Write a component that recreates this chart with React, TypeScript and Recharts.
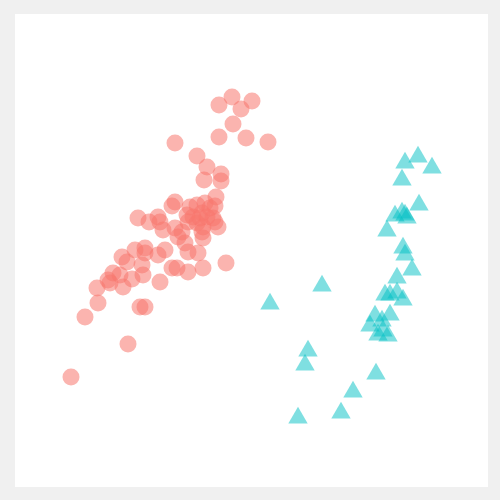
import React from 'react'
import { ScatterChart, Scatter, XAxis, YAxis } from 'recharts'

// group A (circles)
const circleX = [219, 232, 252, 241, 233, 219, 246, 268, 175, 197, 207, 221, 204, 221, 216, 175, 172, 190, 197, 205, 215, 138, 149, 158, 160, 163, 187, 193, 202, 207, 197, 203, 215, 218, 175, 182, 178, 203, 202, 185, 188, 198, 135, 145, 145, 165, 158, 122, 127, 142, 177, 172, 188, 203, 226, 113, 120, 108, 110, 132, 143, 123, 97, 160, 98, 140, 145, 85, 128, 71, 210, 200, 188, 213]
const circleY = [105, 97, 101, 109, 124, 137, 138, 142, 143, 156, 167, 174, 180, 181, 197, 202, 206, 207, 205, 203, 206, 218, 222, 217, 222, 230, 215, 217, 213, 217, 223, 227, 222, 227, 228, 232, 237, 238, 232, 243, 252, 253, 250, 248, 253, 250, 255, 257, 262, 265, 268, 268, 272, 268, 263, 273, 275, 280, 283, 279, 275, 287, 288, 282, 303, 307, 307, 317, 344, 377, 208, 218, 222, 218]

// group B (triangles)
const triX = [405, 418, 432, 402, 419, 395, 402, 405, 407, 387, 403, 405, 412, 397, 322, 270, 385, 390, 397, 403, 390, 375, 370, 382, 378, 388, 383, 308, 305, 376, 353, 341, 298]
const triY = [160, 154, 165, 177, 202, 213, 210, 212, 215, 228, 245, 252, 267, 275, 283, 301, 292, 292, 290, 297, 312, 313, 323, 318, 332, 333, 328, 348, 362, 371, 389, 410, 415]

const circles = circleX.map((x, i) => ({ x, y: circleY[i] }))
const triangles = triX.map((x, i) => ({ x, y: triY[i] + 3 }))

const Dot = (props: any) => (
  <circle cx={props.cx} cy={props.cy} r={8.5} fill="#F8766D" fillOpacity={0.55} />
)

const Tri = (props: any) => {
  const { cx, cy } = props
  const s = 5.6
  const h = Math.sqrt(3) * s
  return (
    <path
      d={`M${cx},${cy - 2 * s}L${cx - h},${cy + s}L${cx + h},${cy + s}Z`}
      fill="#00BFC4"
      fillOpacity={0.5}
    />
  )
}

export default function App() {
  return (
    <div style={{ position: 'fixed', left: 0, top: 0, width: 500, height: 500, background: '#F0F0F0' }}>
      <div style={{ position: 'absolute', left: 15, top: 14, width: 473, height: 473, background: '#FFFFFF' }} />
      <div style={{ position: 'absolute', left: 0, top: 0 }}>
        <ScatterChart width={500} height={500} margin={{ top: 0, right: 0, bottom: 0, left: 0 }}>
          <XAxis type="number" dataKey="x" domain={[0, 500]} hide />
          <YAxis type="number" dataKey="y" domain={[0, 500]} reversed hide />
          <Scatter data={circles} shape={Dot} isAnimationActive={false} />
          <Scatter data={triangles} shape={Tri} isAnimationActive={false} />
        </ScatterChart>
      </div>
    </div>
  )
}
